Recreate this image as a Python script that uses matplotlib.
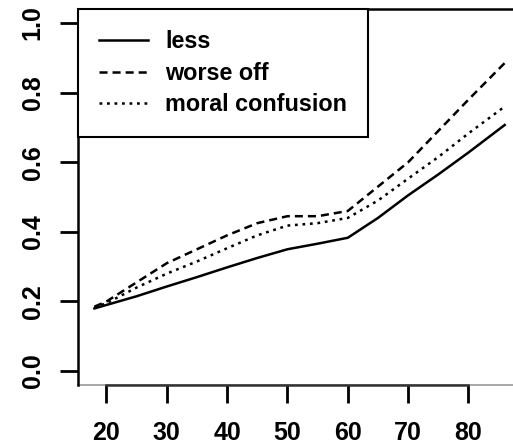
import numpy as np
import matplotlib
matplotlib.use("Agg")
import matplotlib.pyplot as plt

# values
ages = [18, 20, 25, 30, 35, 40, 45, 50, 55, 60, 65, 70, 75, 80, 86]
less = [0.180, 0.190, 0.215, 0.243, 0.270, 0.298, 0.325, 0.350, 0.366, 0.383,
        0.440, 0.505, 0.565, 0.628, 0.707]
worse_off = [0.185, 0.200, 0.255, 0.310, 0.350, 0.390, 0.425, 0.445, 0.445, 0.460,
             0.530, 0.600, 0.690, 0.780, 0.885]
moral_confusion = [0.183, 0.195, 0.240, 0.280, 0.315, 0.353, 0.390, 0.418, 0.425, 0.440,
                   0.490, 0.553, 0.615, 0.683, 0.760]

x_ticks = [20, 30, 40, 50, 60, 70, 80]
y_ticks = [0.0, 0.2, 0.4, 0.6, 0.8, 1.0]

plt.rcParams['font.family'] = ['Liberation Sans', 'DejaVu Sans']
plt.rcParams['font.weight'] = 'bold'
plt.rcParams['lines.scale_dashes'] = False

fig = plt.figure(figsize=(5.13, 4.45), dpi=100)
ax = fig.add_axes([0.152, 0.1348, 0.8638, 0.8448])

lw = 1.8
ax.plot(ages, less, color='black', lw=lw, label='less')
ax.plot(ages, worse_off, color='black', lw=lw, dashes=(5.8, 3.6), label='worse off')
ax.plot(ages, moral_confusion, color='black', lw=lw, dashes=(2.0, 3.4), label='moral confusion')

# R style ranges (4% padding)
span = max(ages) - min(ages)
ax.set_xlim(min(ages) - 0.04 * span, max(ages) + 0.04 * span)
ax.set_ylim(-0.04, 1.04)

ax.set_xticks(x_ticks)
ax.set_xticklabels([str(t) for t in x_ticks], fontsize=18)
ax.set_yticks(y_ticks)
ax.set_yticklabels([f"{t:.1f}" for t in y_ticks], fontsize=18, rotation=90, va='center')
ax.tick_params(axis='both', direction='out', length=13, width=2, color='black')
ax.tick_params(axis='x', pad=13)
ax.tick_params(axis='y', pad=11)

for side in ['left', 'top']:
    ax.spines[side].set_color('black')
    ax.spines[side].set_linewidth(1.8)
ax.spines['right'].set_visible(False)
ax.spines['bottom'].set_color('#333333')
ax.spines['bottom'].set_linewidth(1.8)
ax.spines['bottom'].set_bounds(x_ticks[0], x_ticks[-1])
ax.plot([0, 1], [0, 0], transform=ax.transAxes, color='#999999', lw=1.2,
        clip_on=False, zorder=0.5)

leg = ax.legend(loc='upper left', bbox_to_anchor=(0, 1), borderaxespad=0,
                fancybox=False, edgecolor='black', framealpha=1,
                prop={'size': 16.8, 'weight': 'bold'},
                handlelength=2.08, handletextpad=0.75, borderpad=0.9,
                labelspacing=0.37)
leg.get_frame().set_linewidth(1.5)

fig.savefig('out.png', dpi=100)
